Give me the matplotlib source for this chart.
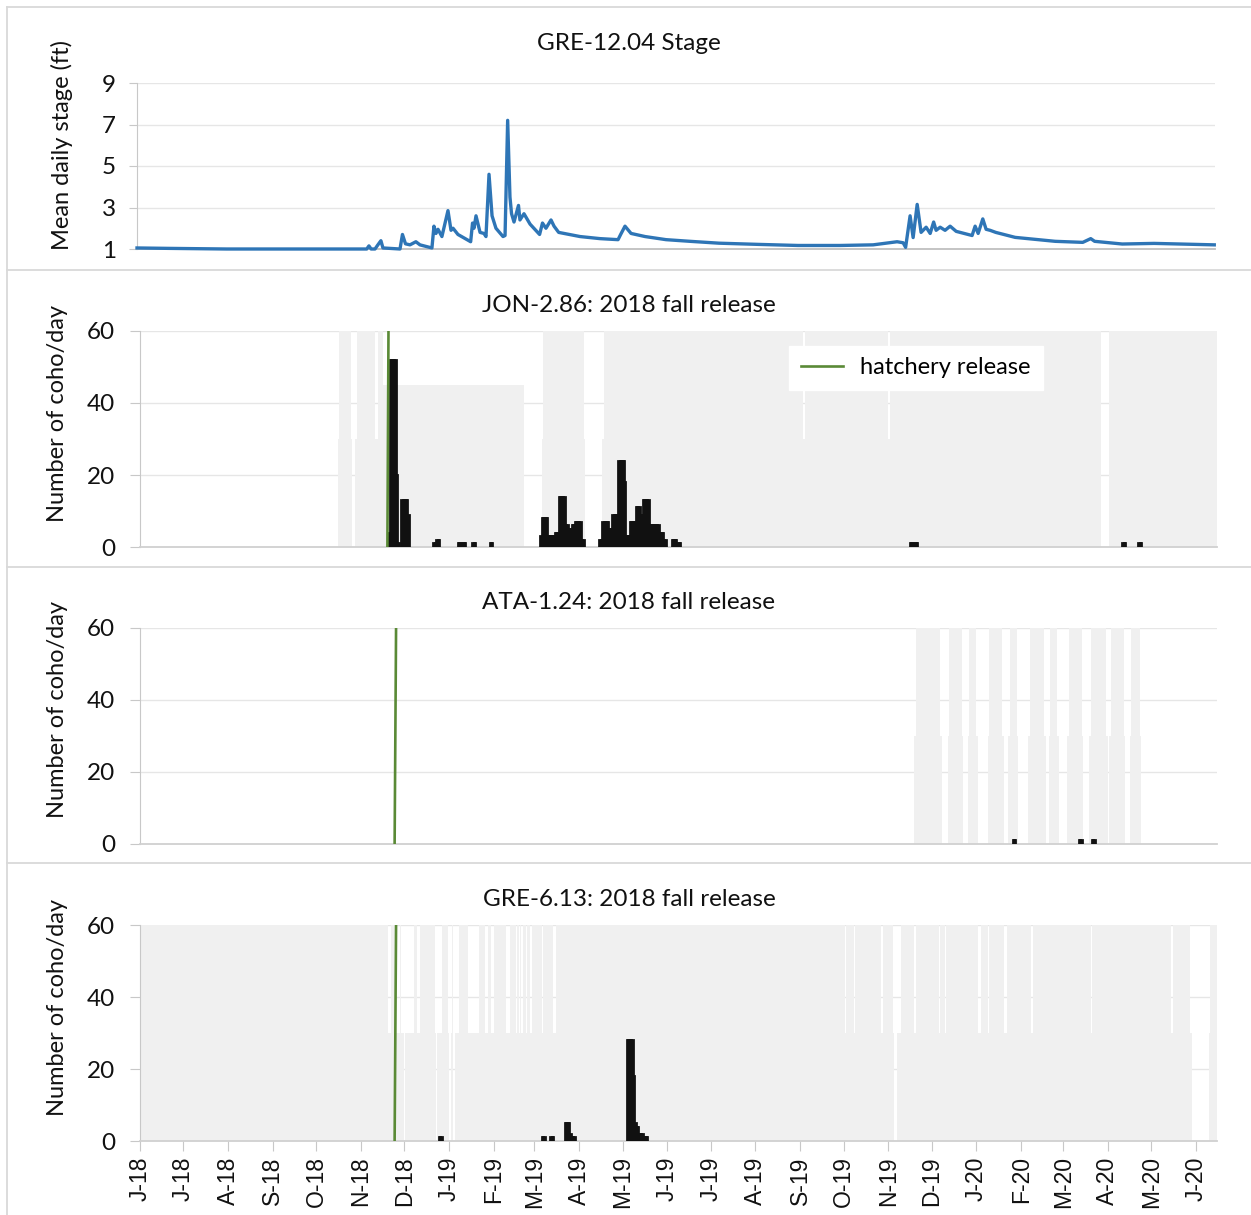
import matplotlib
matplotlib.use("Agg")
import matplotlib.pyplot as plt
import matplotlib.dates as mdates
from matplotlib.lines import Line2D
from matplotlib.ticker import FuncFormatter
import pandas as pd

W, H = 1251, 1215
plt.rcParams['font.family'] = ['Lato', 'DejaVu Sans']

BLUE = '#2e75b6'
GREEN = '#5a8a36'
SHADE = '#f0f0f0'
GRID = '#e6e6e6'
AXIS = '#c8c8c8'
TXT = '#111111'

# mean daily stage at GRE-12.04, days after 1 Jun 2018 / ft
stage_day = [-2, 20, 60, 100, 140, 157, 158.5, 160, 162.7, 164.7, 166.8, 168.2, 180, 181.7,
             183.8, 186.9, 191, 193.8, 202.1, 203.5, 204.9, 206.3, 209, 213.2, 215.3, 216.7,
             220.1, 226.4, 228.9, 230.2, 231.2, 232.6, 235.4, 238.1, 239.5, 241.6, 243.7,
             246.4, 251.3, 252.7, 254.5, 256.1, 257.2, 258.9, 262, 263, 265.8, 270, 276.6,
             278.6, 281, 284.5, 286.6, 289.8, 293.5, 304.6, 318.4, 330.9, 332.7, 335.7,
             339.9, 349.6, 364.1, 380.7, 400.8, 429.2, 455.5, 484.6, 507.4, 524, 528.2,
             529.9, 533, 535.1, 537.9, 540.6, 544.1, 546.9, 549.3, 551, 553.8, 557.2, 560.7,
             564.9, 575.9, 578, 580.1, 583.3, 585.6, 588.4, 592.3, 605.7, 633.4, 652.5, 658,
             660.7, 679.8, 701.9, 720, 743.5]
stage_ft = [1.05, 1.03, 1.0, 1.0, 1.0, 1.0, 1.15, 1.0, 1.0, 1.2, 1.4, 1.05, 1.0, 1.7,
            1.25, 1.2, 1.35, 1.2, 1.05, 2.1, 1.75, 1.95, 1.6, 2.85, 1.9, 2.0,
            1.7, 1.45, 1.35, 2.25, 2.0, 2.6, 1.8, 1.75, 1.6, 4.6, 2.6,
            2.0, 1.6, 1.65, 7.2, 3.5, 2.7, 2.3, 3.1, 2.4, 2.7, 2.2, 1.7,
            2.25, 2.0, 2.4, 2.1, 1.8, 1.75, 1.6, 1.5, 1.45, 1.7, 2.1,
            1.75, 1.6, 1.45, 1.37, 1.28, 1.22, 1.17, 1.17, 1.2, 1.35, 1.3,
            1.08, 2.6, 1.55, 3.15, 1.8, 2.05, 1.75, 2.3, 1.9, 2.05, 1.9, 2.1,
            1.85, 1.65, 2.1, 1.75, 2.45, 1.95, 1.9, 1.8, 1.56, 1.37, 1.32, 1.5,
            1.37, 1.24, 1.27, 1.24, 1.2]

# coho per day: (first day, number of days, count)
jon_runs = [("2018-11-20", 1, 4), ("2018-11-21", 4, 52), ("2018-11-25", 1, 20), ("2018-11-26", 1, 1),
            ("2018-11-29", 4, 13), ("2018-12-03", 1, 9),
            ("2018-12-21", 2, 1), ("2018-12-23", 2, 2),
            ("2019-01-07", 2, 1), ("2019-01-10", 2, 1), ("2019-01-17", 2, 1), ("2019-01-29", 2, 1),
            ("2019-03-05", 1, 3), ("2019-03-06", 4, 8), ("2019-03-10", 5, 3), ("2019-03-15", 3, 4),
            ("2019-03-18", 4, 14), ("2019-03-22", 2, 6), ("2019-03-24", 3, 5), ("2019-03-27", 2, 6),
            ("2019-03-29", 4, 7), ("2019-04-02", 2, 2),
            ("2019-04-15", 2, 2), ("2019-04-17", 4, 7), ("2019-04-21", 3, 5), ("2019-04-24", 4, 9),
            ("2019-04-28", 4, 24), ("2019-05-02", 1, 18), ("2019-05-03", 3, 3), ("2019-05-06", 4, 7),
            ("2019-05-10", 3, 11), ("2019-05-13", 2, 9), ("2019-05-15", 4, 13), ("2019-05-19", 7, 6),
            ("2019-05-26", 3, 4), ("2019-05-29", 2, 2), ("2019-06-04", 3, 2), ("2019-06-08", 2, 1),
            ("2019-11-16", 2, 1), ("2019-11-19", 2, 1), ("2020-04-11", 2, 1), ("2020-04-22", 2, 1)]
ata_runs = [("2020-01-26", 2, 1), ("2020-03-12", 2, 1), ("2020-03-21", 2, 1)]
gre6_runs = [("2018-12-25", 2, 1), ("2019-03-06", 2, 1), ("2019-03-12", 2, 1),
             ("2019-03-22", 3, 5), ("2019-03-25", 1, 2), ("2019-03-26", 3, 1),
             ("2019-05-04", 4, 28), ("2019-05-08", 1, 18), ("2019-05-09", 1, 5),
             ("2019-05-10", 2, 4), ("2019-05-12", 3, 2), ("2019-05-15", 3, 1)]

# hatchery release (date at 0, date at 60)
jon_release = ("2018-11-19 06:00", "2018-11-20 00:00")
ata_release = ("2018-11-24 06:00", "2018-11-25 06:00")
gre6_release = ("2018-11-24 06:00", "2018-11-25 06:00")

# shaded periods: (start, end, top)
jon_shade = [("2018-10-17", "2018-10-25", 60), ("2018-10-29", "2018-11-11", 60),
             ("2018-11-13", "2018-11-16", 60), ("2018-11-16", "2019-02-22", 45),
             ("2019-03-07", "2019-04-04", 60), ("2019-04-18", "2019-09-03", 60),
             ("2019-09-04", "2019-11-01", 60), ("2019-11-02", "2020-03-27", 60),
             ("2020-04-02", "2020-06-16", 60),
             ("2018-10-16", "2018-10-26", 30), ("2018-10-28", "2018-11-16", 30),
             ("2019-03-06", "2019-04-05", 30), ("2019-04-17", "2020-03-27", 30),
             ("2020-04-02", "2020-06-16", 30)]
ata_shade = [("2019-11-20", "2019-12-07", 60), ("2019-12-13", "2019-12-22", 60),
             ("2019-12-27", "2020-01-01", 60), ("2020-01-10", "2020-01-19", 60),
             ("2020-01-24", "2020-01-29", 60), ("2020-02-07", "2020-02-17", 60),
             ("2020-02-21", "2020-02-26", 60), ("2020-03-05", "2020-03-14", 60),
             ("2020-03-20", "2020-03-31", 60), ("2020-04-03", "2020-04-12", 60),
             ("2020-04-17", "2020-04-23", 60),
             ("2019-11-19", "2019-12-08", 30), ("2019-12-12", "2019-12-23", 30),
             ("2019-12-26", "2020-01-02", 30), ("2020-01-09", "2020-01-20", 30),
             ("2020-01-23", "2020-01-30", 30), ("2020-02-06", "2020-02-18", 30),
             ("2020-02-20", "2020-02-27", 30), ("2020-03-04", "2020-03-15", 30),
             ("2020-03-19", "2020-04-01", 30), ("2020-04-02", "2020-04-13", 30),
             ("2020-04-16", "2020-04-24", 30)]
# GRE-6.13 is shaded the whole season except these gaps
gre6_season = ("2018-06-01", "2020-06-16")
gre6_hi_gaps = [("2018-11-20", "2018-11-22"), ("2018-11-25", "2018-11-28"), ("2018-11-29", "2018-12-08"),
                ("2018-12-10", "2018-12-12"), ("2018-12-22", "2018-12-27"), ("2018-12-31", "2019-01-03"),
                ("2019-01-04", "2019-01-08"), ("2019-01-14", "2019-01-22"), ("2019-01-26", "2019-01-28"),
                ("2019-01-30", "2019-02-01"), ("2019-02-09", "2019-02-12"), ("2019-02-16", "2019-02-17"),
                ("2019-02-18", "2019-02-19"), ("2019-02-20", "2019-02-21"), ("2019-02-23", "2019-02-24"),
                ("2019-02-26", "2019-02-27"), ("2019-03-06", "2019-03-07"), ("2019-03-14", "2019-03-16"),
                ("2019-10-02", "2019-10-03"), ("2019-10-08", "2019-10-09"), ("2019-10-27", "2019-10-28"),
                ("2019-11-04", "2019-11-10"), ("2019-11-19", "2019-11-20"), ("2019-12-06", "2019-12-07"),
                ("2019-12-10", "2019-12-11"), ("2020-01-02", "2020-01-04"), ("2020-01-09", "2020-01-10"),
                ("2020-01-20", "2020-01-22"), ("2020-02-08", "2020-02-09"), ("2020-03-20", "2020-03-21"),
                ("2020-05-15", "2020-05-16"), ("2020-05-28", "2020-06-11")]
gre6_lo_gaps = [("2018-12-01", "2018-12-01 12:00"), ("2018-12-04", "2018-12-04 12:00"),
                ("2018-12-06", "2018-12-06 12:00"), ("2018-12-23", "2018-12-23 12:00"),
                ("2019-01-01", "2019-01-02"), ("2019-01-04", "2019-01-05"),
                ("2019-11-05", "2019-11-07"), ("2020-05-29", "2020-06-10")]

titles = ["GRE-12.04 Stage", "JON-2.86: 2018 fall release",
          "ATA-1.24: 2018 fall release", "GRE-6.13: 2018 fall release"]


def num(d):
    return mdates.date2num(pd.Timestamp(d))


def fig_box(l, t, r, b):
    return [l / W, 1 - b / H, (r - l) / W, (b - t) / H]


def complement(season, gaps, top):
    spans, cur = [], season[0]
    for g0, g1 in gaps:
        spans.append((cur, g0, top))
        cur = g1
    spans.append((cur, season[1], top))
    return spans


def month_label(x, pos):
    d = mdates.num2date(x)
    return d.strftime('%b')[0] + '-' + d.strftime('%y')


fig = plt.figure(figsize=(W / 100, H / 100), dpi=100)

# panel frames
for y in [7, 270, 567, 863]:
    fig.add_artist(Line2D([7 / W, 1], [1 - y / H] * 2, color='#d9d9d9', lw=1.3))
fig.add_artist(Line2D([7 / W] * 2, [0, 1 - 7 / H], color='#d9d9d9', lw=1.3))

# stage panel
ax1 = fig.add_axes(fig_box(137, 83, 1215, 249))
base = num("2018-06-01")
ax1.plot([base + d for d in stage_day], stage_ft, color=BLUE, lw=2.4, clip_on=False, zorder=3)
ax1.set_ylim(1, 9)
ax1.set_yticks([1, 3, 5, 7, 9])
ax1.set_xlim(num("2018-05-30"), num("2020-06-14"))
for v in [3, 5, 7, 9]:
    ax1.axhline(v, color=GRID, lw=1, zorder=0)
for s in ['top', 'right']:
    ax1.spines[s].set_visible(False)
ax1.spines['left'].set_color(AXIS)
ax1.spines['bottom'].set_color('#bfbfbf')
ax1.spines['bottom'].set_linewidth(1.3)
ax1.tick_params(axis='y', length=6, color=AXIS, pad=9, labelsize=17.5, labelcolor=TXT)
ax1.tick_params(axis='x', length=0, labelbottom=False)
fig.text(629 / W, 1 - 43 / H, titles[0], ha='center', va='center', fontsize=17.5, color=TXT)
fig.text(62 / W, 1 - 145 / H, "Mean daily stage (ft)", rotation=90, ha='center', va='center',
         fontsize=17, color=TXT)

panels = [
    (331, 547, jon_shade, jon_runs, jon_release, 306),
    (628, 844, ata_shade, ata_runs, ata_release, 603),
    (925, 1141, complement(gre6_season, gre6_hi_gaps, 60) + complement(gre6_season, gre6_lo_gaps, 30),
     gre6_runs, gre6_release, 900),
]

for i, (top, bot, shade, runs, release, title_y) in enumerate(panels):
    ax = fig.add_axes(fig_box(140, top, 1217, bot))
    for s, e, h in shade:
        ax.bar(num(s), h, width=num(e) - num(s), align='edge', color=SHADE, lw=0, zorder=1)
    days, counts = [], []
    for start, n, c in runs:
        for k in range(n):
            days.append(num(start) + k)
            counts.append(c)
    ax.bar(days, counts, width=1, align='edge', color='#111111', edgecolor='#111111',
           lw=2.0, zorder=3)
    line, = ax.plot([num(release[0]), num(release[1])], [0, 60], color=GREEN, lw=1.9,
                    zorder=4, label='hatchery release')
    ax.set_ylim(0, 60)
    ax.set_yticks([0, 20, 40, 60])
    ax.set_xlim(num("2018-06-01"), num("2020-06-15 12:00"))
    for v in [20, 40, 60]:
        ax.axhline(v, color=GRID, lw=1, zorder=0.5)
    for s in ['top', 'right']:
        ax.spines[s].set_visible(False)
    ax.spines['left'].set_color(AXIS)
    ax.spines['bottom'].set_color('#d0d0d0')
    ax.spines['bottom'].set_linewidth(1.3)
    ax.tick_params(axis='y', length=7, color=AXIS, pad=11, labelsize=17.5, labelcolor=TXT)
    ax.xaxis.set_major_locator(mdates.MonthLocator())
    if i == 2:
        ax.xaxis.set_major_formatter(FuncFormatter(month_label))
        ax.tick_params(axis='x', length=7, color=AXIS, pad=4, labelsize=16.5, labelcolor=TXT,
                       labelrotation=90, labelfontfamily='Liberation Sans')
    else:
        ax.tick_params(axis='x', length=0, labelbottom=False)
    if i == 0:
        ax.legend(handles=[line], loc='upper left', bbox_to_anchor=(0.603, 0.932),
                  fontsize=17, frameon=True, facecolor='white', edgecolor='white',
                  framealpha=1, fancybox=False, handlelength=1.75, handletextpad=0.75,
                  borderpad=0.5, borderaxespad=0)
    fig.text(629 / W, 1 - title_y / H, titles[i + 1], ha='center', va='center',
             fontsize=17.5, color=TXT)
    fig.text(58 / W, 1 - (top + bot - 52) / 2 / H, "Number of coho/day", rotation=90,
             ha='center', va='center', fontsize=17, color=TXT)

fig.savefig("out.png", dpi=100)
